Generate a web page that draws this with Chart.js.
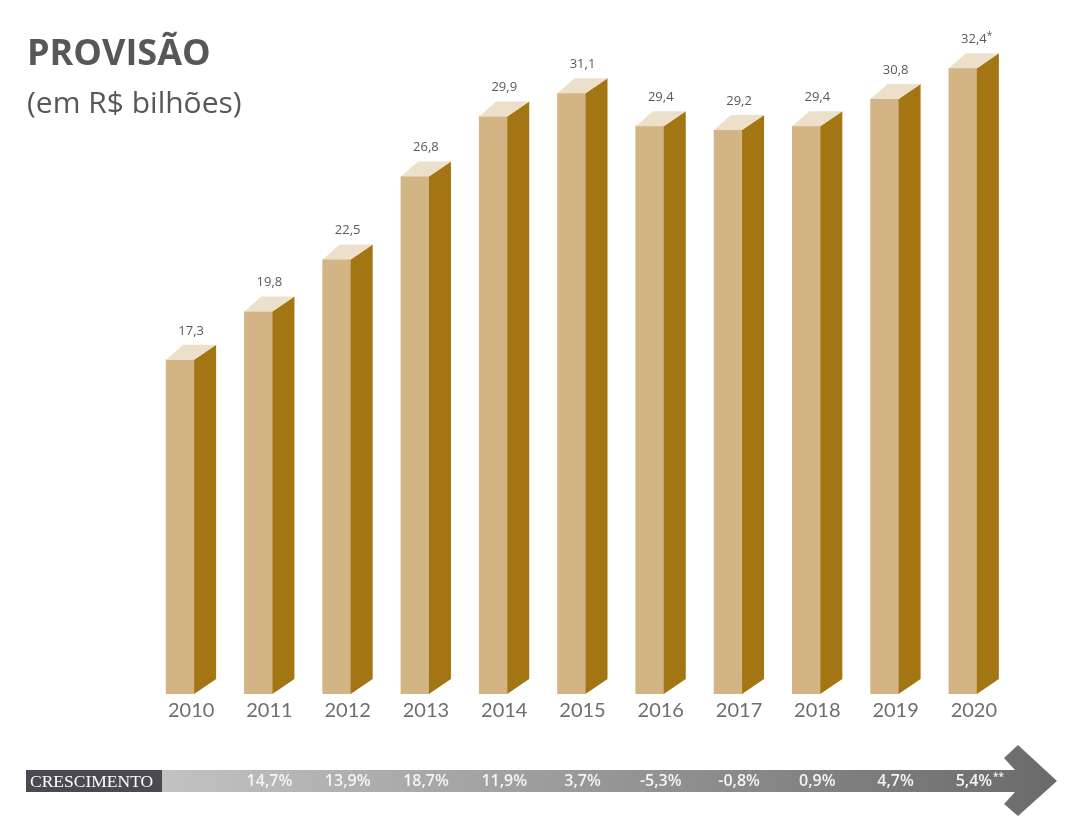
<!DOCTYPE html>
<html lang="pt-BR">
<head>
<meta charset="utf-8">
<title>Provisão</title>
<script src="https://cdn.jsdelivr.net/npm/chart.js@4.4.1/dist/chart.umd.min.js"></script>
<style>
  html, body { margin: 0; padding: 0; background: #ffffff; }
  #wrap { position: relative; width: 1068px; height: 816px; overflow: hidden; }
  #chart { position: absolute; left: 0; top: 0; }
  .titulo {
    position: absolute; left: 27px; top: 34px; margin: 0;
    font-family: "Open Sans", sans-serif; font-weight: 700; font-size: 36px;
    line-height: 1; color: #575757;
  }
  .subtitulo {
    position: absolute; left: 27px; top: 87px; margin: 0;
    font-family: "Open Sans", sans-serif; font-weight: 400; font-size: 30px;
    line-height: 1; color: #575757;
  }
</style>
</head>
<body>
<div id="wrap">
  <canvas id="chart" width="1068" height="816"></canvas>
  <h1 class="titulo">PROVISÃO</h1>
  <p class="subtitulo">(em R$ bilhões)</p>
</div>
<script>
const anos = ['2010', '2011', '2012', '2013', '2014', '2015', '2016', '2017', '2018', '2019', '2020'];
const provisao = [17.3, 19.8, 22.5, 26.8, 29.9, 31.1, 29.4, 29.2, 29.4, 30.8, 32.4];
const provisaoNotas = ['', '', '', '', '', '', '', '', '', '', '*'];
const crescimento = [null, 14.7, 13.9, 18.7, 11.9, 3.7, -5.3, -0.8, 0.9, 4.7, 5.4];
const crescimentoNotas = ['', '', '', '', '', '', '', '', '', '', '**'];

const corFrente = '#d2b485';
const corLado = '#a47613';
const corTopo = '#ede0cb';

// profundidade do efeito 3D
const PROF_X = 22;
const PROF_X_TOPO = 17;
const PROF_Y = 15;
// centro visual da barra (frente + lado)
const DESLOC = 11;

function fmt(v) {
  return v.toFixed(1).replace('.', ',');
}

// desenha lado e topo de cada barra, e o rótulo de valor
const barras3d = {
  id: 'barras3d',
  afterDatasetsDraw(chart) {
    const ctx = chart.ctx;
    const meta = chart.getDatasetMeta(0);
    meta.data.forEach((bar, i) => {
      const half = bar.width / 2;
      const x0 = bar.x - half;
      const x1 = bar.x + half;
      const y = bar.y;
      const base = bar.base;

      ctx.save();
      ctx.fillStyle = corLado;
      ctx.beginPath();
      ctx.moveTo(x1, y);
      ctx.lineTo(x1 + PROF_X, y - PROF_Y);
      ctx.lineTo(x1 + PROF_X, base - PROF_Y);
      ctx.lineTo(x1, base);
      ctx.closePath();
      ctx.fill();

      ctx.fillStyle = corTopo;
      ctx.beginPath();
      ctx.moveTo(x0, y);
      ctx.lineTo(x0 + PROF_X_TOPO, y - PROF_Y);
      ctx.lineTo(x1 + PROF_X, y - PROF_Y);
      ctx.lineTo(x1, y);
      ctx.closePath();
      ctx.fill();

      // rótulo do valor
      const ty = y - PROF_Y - 14;
      const txt = fmt(provisao[i]);
      const nota = provisaoNotas[i];
      ctx.fillStyle = '#595959';
      ctx.textBaseline = 'middle';
      ctx.textAlign = 'left';
      ctx.font = '13px "Open Sans", sans-serif';
      const w = ctx.measureText(txt).width;
      const lx = bar.x + DESLOC - w / 2;
      ctx.fillText(txt, lx, ty);
      if (nota) {
        ctx.font = '10px "Open Sans", sans-serif';
        ctx.fillText(nota, lx + w, ty - 3);
      }
      ctx.restore();
    });
  }
};

// faixa de crescimento com seta
const faixaCrescimento = {
  id: 'faixaCrescimento',
  afterDraw(chart) {
    const ctx = chart.ctx;
    const xs = chart.scales.x;
    const topo = 770, fundo = 792, meio = 781;

    ctx.save();
    const grad = ctx.createLinearGradient(162, 0, 1057, 0);
    grad.addColorStop(0, '#c2c2c2');
    grad.addColorStop(1, '#6a6a6a');
    ctx.fillStyle = grad;
    ctx.beginPath();
    ctx.moveTo(162, topo);
    ctx.lineTo(1015, topo);
    ctx.lineTo(1004, 758);
    ctx.lineTo(1018, 745);
    ctx.lineTo(1057, 781);
    ctx.lineTo(1018, 816);
    ctx.lineTo(1004, 804);
    ctx.lineTo(1015, fundo);
    ctx.lineTo(162, fundo);
    ctx.closePath();
    ctx.fill();

    ctx.fillStyle = '#4a4b50';
    ctx.fillRect(26, topo, 136, fundo - topo);
    ctx.fillStyle = '#ffffff';
    ctx.font = '17.5px "Liberation Serif", serif';
    ctx.textBaseline = 'middle';
    ctx.textAlign = 'left';
    ctx.fillText('CRESCIMENTO', 30, meio + 1);

    ctx.fillStyle = '#f5f5f5';
    crescimento.forEach((v, i) => {
      if (v === null) return;
      const cx = xs.getPixelForValue(i) + DESLOC;
      const txt = fmt(v) + '%';
      ctx.font = '600 16px "Open Sans", sans-serif';
      ctx.textAlign = 'center';
      ctx.fillText(txt, cx, meio);
      const nota = crescimentoNotas[i];
      if (nota) {
        const w = ctx.measureText(txt).width;
        ctx.font = '600 10px "Open Sans", sans-serif';
        ctx.textAlign = 'left';
        ctx.fillText(nota, cx + w / 2 + 1, meio - 4);
      }
    });
    ctx.restore();
  }
};

new Chart(document.getElementById('chart').getContext('2d'), {
  type: 'bar',
  data: {
    labels: anos,
    datasets: [{
      label: 'Provisão',
      data: provisao,
      backgroundColor: corFrente,
      borderWidth: 0,
      barThickness: 28
    }]
  },
  options: {
    responsive: false,
    animation: false,
    layout: {
      padding: { left: 141, right: 66, top: 18, bottom: 82 }
    },
    scales: {
      x: {
        grid: { display: false, drawTicks: false },
        border: { display: false },
        ticks: {
          color: '#6e6e6e',
          font: { family: 'Lato', size: 20, weight: '400' },
          padding: 5,
          labelOffset: DESLOC,
          maxRotation: 0
        },
        afterFit(scale) { scale.height = 40; }
      },
      y: {
        display: false,
        min: 0,
        max: 35
      }
    },
    plugins: {
      legend: { display: false },
      tooltip: { enabled: false },
      title: { display: false }
    }
  },
  plugins: [barras3d, faixaCrescimento]
});
</script>
</body>
</html>
